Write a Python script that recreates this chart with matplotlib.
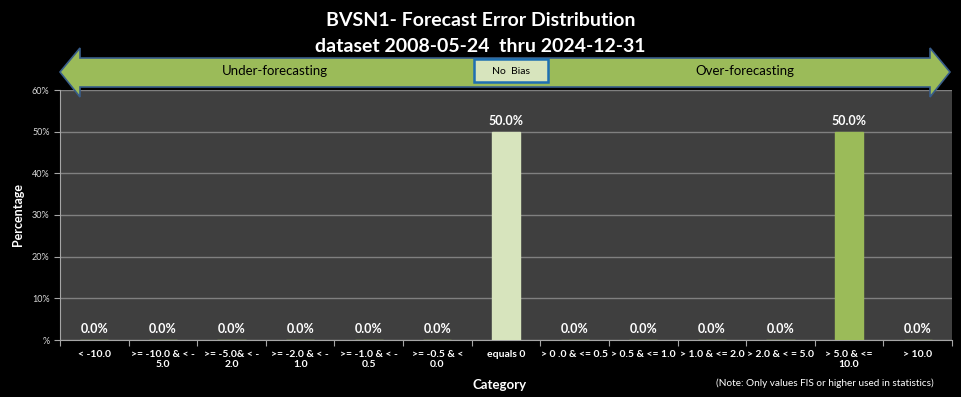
import matplotlib.pyplot as plt
from matplotlib.patches import Polygon, Rectangle

categories = [
    "< -10.0", ">= -10.0 & < -\n5.0", ">= -5.0& < -\n2.0", ">= -2.0 & < -\n1.0",
    ">= -1.0 & < -\n0.5", ">= -0.5 & <\n0.0", "equals 0", "> 0 .0 & <= 0.5",
    "> 0.5 & <= 1.0", "> 1.0 & <= 2.0", "> 2.0 & < = 5.0", "> 5.0 & <=\n10.0", "> 10.0",
]
percent = [0.0, 0.0, 0.0, 0.0, 0.0, 0.0, 50.0, 0.0, 0.0, 0.0, 0.0, 50.0, 0.0]
bar_colors = ["#9bbb59"] * 6 + ["#d7e4bd"] + ["#9bbb59"] * 6
yticks = [0, 10, 20, 30, 40, 50, 60]
ytick_labels = ["%", "10%", "20%", "30%", "40%", "50%", "60%"]

W, H = 961, 397
fig = plt.figure(figsize=(W / 100, H / 100), dpi=100, facecolor="black")
plt.rcParams["font.family"] = ["Lato", "DejaVu Sans"]

ax = fig.add_axes([60 / W, (H - 340) / H, 892 / W, 250 / H])
ax.set_facecolor("#3f3f3f")
x = range(len(categories))
ax.bar(x, percent, width=0.41, color=bar_colors, edgecolor=bar_colors, zorder=3)
for i, v in enumerate(percent):
    ax.text(i, v + 1.2, f"{v:.1f}%", ha="center", va="bottom", color="white",
            fontsize=9, fontweight="bold", zorder=4)

ax.set_xlim(-0.5, len(categories) - 0.5)
ax.set_ylim(0, 60)
ax.set_yticks(yticks)
ax.set_yticklabels(ytick_labels, color="#d9d9d9", fontsize=6.5)
ax.set_xticks([i + 0.5 for i in range(-1, len(categories))], minor=False)
ax.set_xticklabels([""] * (len(categories) + 1))
ax.set_xticks(list(x), minor=True)
ax.set_xticklabels(categories, minor=True, color="white", fontsize=7.5, fontweight="bold")
ax.tick_params(axis="x", which="minor", length=0, pad=7)
ax.tick_params(axis="x", which="major", length=4, color="#a6a6a6")
ax.tick_params(axis="y", length=4, color="#a6a6a6")
ax.grid(axis="y", color="#808080", linewidth=1, zorder=1)
for s in ["top", "right"]:
    ax.spines[s].set_visible(False)
for s in ["left", "bottom"]:
    ax.spines[s].set_color("#a6a6a6")

ax.set_ylabel("Percentage", color="white", fontsize=9, fontweight="bold", labelpad=6)
fig.text(500 / W, 1 - 385 / H, "Category", color="white", fontsize=9.5,
         fontweight="bold", ha="center", va="center")
fig.text(825 / W, 1 - 383 / H, "(Note: Only values FIS or higher used in statistics)",
         color="white", fontsize=7.2, ha="center", va="center")

fig.text(0.5, 1 - 20 / H, "BVSN1- Forecast Error Distribution", color="white",
         fontsize=14, fontweight="bold", ha="center", va="center")
fig.text(0.5, 1 - 47 / H, "dataset 2008-05-24  thru 2024-12-31", color="white",
         fontsize=14, fontweight="bold", ha="center", va="center")

# double-headed arrow in figure pixel coords
tr = fig.transFigure
def fp(px, py):
    return (px / W, 1 - py / H)

arrow = [fp(60, 72), fp(80, 48), fp(80, 58), fp(930, 58), fp(930, 48),
         fp(950, 72), fp(930, 97), fp(930, 87), fp(80, 87), fp(80, 97)]
fig.patches.append(Polygon(arrow, closed=True, transform=tr, facecolor="#9bbb59",
                           edgecolor="#385d8a", linewidth=1.2, zorder=5))
fig.patches.append(Rectangle(fp(474, 82), 74 / W, 23 / H, transform=tr,
                             facecolor="#d7e4bd", edgecolor="#1f6fb2", linewidth=1.8, zorder=6))
fig.text(511 / W, 1 - 71 / H, "No  Bias", color="black", fontsize=7.5,
         ha="center", va="center", zorder=7)
fig.text(275 / W, 1 - 71 / H, "Under-forecasting", color="black", fontsize=9.5,
         ha="center", va="center", zorder=7)
fig.text(745 / W, 1 - 71 / H, "Over-forecasting", color="black", fontsize=9.5,
         ha="center", va="center", zorder=7)

fig.savefig("out.png", dpi=100, facecolor="black")
